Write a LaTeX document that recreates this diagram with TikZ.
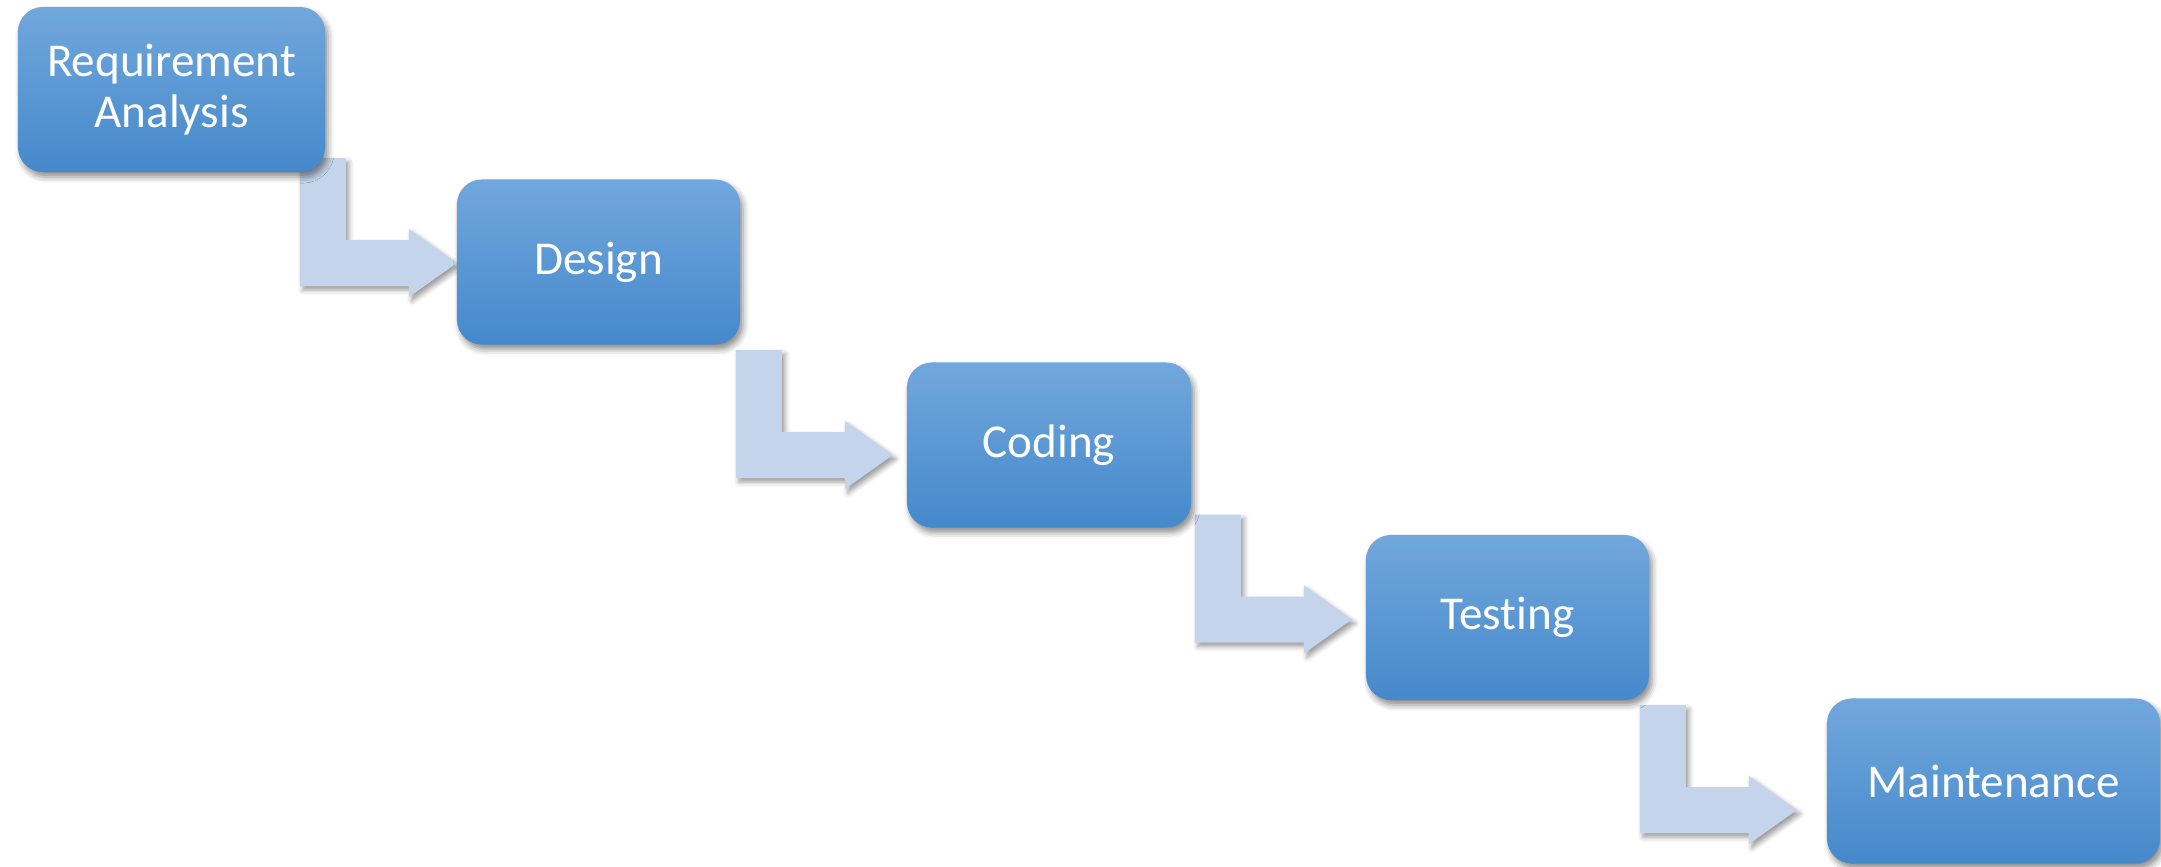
\documentclass[tikz,border=0pt]{standalone}
\usepackage{fontspec}
\setmainfont{Carlito}[Ligatures={NoCommon,NoContextual}]
\usetikzlibrary{calc,shadows.blur,backgrounds}
\definecolor{stagetop}{RGB}{113,167,220}
\definecolor{stagemid}{RGB}{86,154,220}
\definecolor{stagebot}{RGB}{69,137,203}
\definecolor{flowfill}{RGB}{196,212,234}
\begin{document}
\begin{tikzpicture}[x=0.01cm, y=-0.01cm,
	stage/.style={rectangle, rounded corners=0.25cm, minimum height=1.65cm, inner sep=0pt, outer sep=0pt,
		top color=stagetop, middle color=stagemid, bottom color=stagebot, text=white, align=center,
		font=\fontsize{13.4pt}{14.6pt}\selectfont,
		blur shadow={shadow xshift=0.03cm, shadow yshift=-0.05cm, shadow blur radius=0.06cm, shadow opacity=45}},
	stagearrow/.pic={
		\fill[flowfill, blur shadow={shadow xshift=0.03cm, shadow yshift=-0.04cm, shadow blur radius=0.05cm, shadow opacity=40}]
			(-157,-105) -- (-111,-105) -- (-111,-23) -- (-48,-23) -- (-48,-34) -- (0,0)
			-- (-48,34) -- (-48,23) -- (-157,23) -- cycle;
	}]
	\useasboundingbox (0,0) rectangle (2161,866);

	\node[stage, minimum width=3.07cm] (req) at (171.5,89.5) {Requirement\\Analysis};
	\node[stage, minimum width=2.83cm] (design) at (598.5,262) {Design};
	\node[stage, minimum width=2.84cm] (coding) at (1049,445) {Coding};
	\node[stage, minimum width=2.83cm] (testing) at (1507.5,617.5) {Testing};
	\node[stage, minimum width=3.33cm] (maint) at (1993.5,781) {Maintenance};

	\begin{scope}[on background layer]
		\pic at ($(design.west)+(0,1)$) {stagearrow};
		\pic at ($(coding.west)+(-14,10)$) {stagearrow};
		\pic at ($(testing.west)+(-14,2)$) {stagearrow};
		\pic at ($(maint.west)+(-30,29)$) {stagearrow};
	\end{scope}
\end{tikzpicture}
\end{document}
